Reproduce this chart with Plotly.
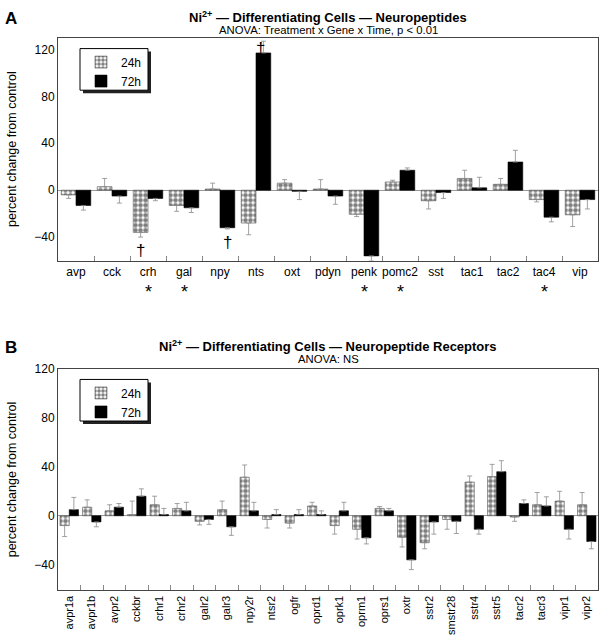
import plotly.graph_objects as go

# ---------------- Panel A: neuropeptides ----------------
genes_a = ["avp", "cck", "crh", "gal", "npy", "nts", "oxt", "pdyn", "penk",
           "pomc2", "sst", "tac1", "tac2", "tac4", "vip"]
a24 = [-4, 3, -36, -13, 1, -28, 6, 1, -20.5, 7, -9, 10, 5, -8, -21]
a24_err = [3, 7, 4, 5, 5, 10, 3, 8, 2, 1.5, 7, 7, 5, 2, 10]
a72 = [-13, -5, -7, -15, -32, 117, -1, -5, -56, 17, -2, 2, 24, -23, -8]
a72_err = [4, 6, 2, 4, 1, 10, 7, 7, 4, 2, 5, 9, 10, 4, 8]
daggers_a = [("crh", "24h"), ("npy", "72h"), ("nts", "72h")]
stars_a = ["crh", "gal", "penk", "pomc2", "tac4"]

# ---------------- Panel B: neuropeptide receptors ----------------
genes_b = ["avpr1a", "avpr1b", "avpr2", "cckbr", "crhr1", "crhr2", "galr2", "galr3",
           "npy2r", "ntsr2", "ogfr", "oprd1", "oprk1", "oprm1", "oprs1", "oxtr",
           "sstr2", "smstr28", "sstr4", "sstr5", "tacr2", "tacr3", "vipr1", "vipr2"]
b24 = [-8, 7, 4, 1, 9, 6, -4.5, 5, 31.5, -3, -6, 8, -8, -11, 6, -17.5,
       -22, -3, 27.5, 32, -1, 9, 12, 9]
b24_err = [9, 6, 5, 11, 7, 4, 3, 7, 10, 7, 4, 3, 7, 8, 1.5, 8,
           5, 8, 5, 10, 3.5, 10, 8, 10]
b72 = [5, -5, 7, 16, 1, 4, -3, -9, 4, 1, 1, 1, 4, -18, 4, -36,
       -5, -4.5, -11, 36, 10, 8, -11, -21]
b72_err = [10, 4, 3, 6, 5, 7, 4, 7, 7, 4, 4, 3, 7, 5, 2, 8,
           10, 10, 4, 9, 3, 7.5, 8, 6]

y_ticks = [-40, 0, 40, 80, 120]
series_names = ["24h", "72h"]

FONT = "Liberation Sans, Arial, Helvetica, sans-serif"
W, H = 604, 635


def one_sided(vals, errs):
    plus = [e if v >= 0 else 0 for v, e in zip(vals, errs)]
    minus = [e if v < 0 else 0 for v, e in zip(vals, errs)]
    return dict(type="data", symmetric=False, array=plus, arrayminus=minus,
                color="#8a8a8a", thickness=0.8, width=2.5)


dot_marker = dict(color="white",
                  pattern=dict(shape=".", fgcolor="black", bgcolor="white",
                               size=5, solidity=0.65, fillmode="overlay"),
                  line=dict(color="#555555", width=0.6))
solid_marker = dict(color="black", line=dict(color="black", width=0.6))

fig = go.Figure()

for name, vals, errs, marker in [(series_names[0], a24, a24_err, dot_marker),
                                 (series_names[1], a72, a72_err, solid_marker)]:
    fig.add_trace(go.Bar(x=genes_a, y=vals, name=name, marker=marker,
                         error_y=one_sided(vals, errs), xaxis="x", yaxis="y",
                         legend="legend"))
for name, vals, errs, marker in [(series_names[0], b24, b24_err, dot_marker),
                                 (series_names[1], b72, b72_err, solid_marker)]:
    fig.add_trace(go.Bar(x=genes_b, y=vals, name=name, marker=marker,
                         error_y=one_sided(vals, errs), xaxis="x2", yaxis="y2",
                         legend="legend2"))

# plot area pixel geometry
xl, xr = 58, 598
a_top, a_bot = 32, 257
b_top, b_bot = 366, 590
px = lambda v: v / W
py = lambda v: 1 - v / H

axis_common = dict(showline=True, linecolor="#444444", linewidth=1, mirror=True,
                   showgrid=False, tickfont=dict(family=FONT, size=12, color="black"))

legend_common = dict(xanchor="left", yanchor="top", bgcolor="rgba(0,0,0,0)",
                     borderwidth=0, font=dict(family=FONT, size=12),
                     tracegroupgap=0, itemwidth=30)

fig.update_layout(
    width=W, height=H,
    margin=dict(l=0, r=0, t=0, b=0),
    paper_bgcolor="white", plot_bgcolor="white",
    barmode="group", bargap=0.18, bargroupgap=0,
    font=dict(family=FONT, color="black"),
    xaxis=dict(domain=[px(xl), px(xr)], anchor="y", type="category",
               ticks="inside", tickson="boundaries", ticklen=5, tickcolor="#888888",
               tickangle=0, **axis_common),
    yaxis=dict(domain=[py(a_bot), py(a_top)], anchor="x", range=[-60, 130],
               tickvals=y_ticks, ticks="", zeroline=True, zerolinecolor="#999999",
               zerolinewidth=1,
               title=dict(text="percent change from control", standoff=14,
                          font=dict(family=FONT, size=12.5)),
               **axis_common),
    xaxis2=dict(domain=[px(xl), px(xr)], anchor="y2", type="category",
                ticks="inside", tickson="boundaries", ticklen=5, tickcolor="#888888",
                tickangle=-90, **{**axis_common,
                                  "tickfont": dict(family=FONT, size=11, color="black")}),
    yaxis2=dict(domain=[py(b_bot), py(b_top)], anchor="x2", range=[-61, 120.3],
                tickvals=y_ticks, ticks="", zeroline=True, zerolinecolor="#999999",
                zerolinewidth=1,
                title=dict(text="percent change from control", standoff=14,
                           font=dict(family=FONT, size=12.5)),
                **axis_common),
    legend=dict(x=px(81), y=py(42), **legend_common),
    legend2=dict(x=px(81), y=py(376), **legend_common),
)

# legend boxes with drop shadows
for top in (43, 377):
    fig.add_shape(type="rect", xref="paper", yref="paper", layer="above",
                  x0=px(83), x1=px(151), y0=py(top + 45), y1=py(top + 3),
                  fillcolor="#222222", line=dict(width=0))
    fig.add_shape(type="rect", xref="paper", yref="paper", layer="above",
                  x0=px(80), x1=px(148), y0=py(top + 42), y1=py(top),
                  fillcolor="white", line=dict(color="black", width=1))

annots = []
# titles
annots += [
    dict(text="<b>Ni<sup>2+</sup> — Differentiating Cells — Neuropeptides</b>",
         x=px(328), y=py(11), font=dict(size=13)),
    dict(text="ANOVA: Treatment x Gene x Time, p < 0.01",
         x=px(328), y=py(24), font=dict(size=11.3)),
    dict(text="<b>Ni<sup>2+</sup> — Differentiating Cells — Neuropeptide Receptors</b>",
         x=px(328), y=py(343), font=dict(size=13)),
    dict(text="ANOVA: NS", x=px(328), y=py(356.5), font=dict(size=11.3)),
    dict(text="<b>A</b>", x=px(11), y=py(13), font=dict(size=17)),
    dict(text="<b>B</b>", x=px(11), y=py(345), font=dict(size=17)),
]
for a in annots:
    a.update(xref="paper", yref="paper", showarrow=False, xanchor="center",
             yanchor="middle")
    a["font"] = dict(family=FONT, color="black", **a["font"])
    fig.add_annotation(**a)

# daggers (significance marks on bars)
cat_w = (xr - xl) / len(genes_a)
bar_off = cat_w * (1 - 0.18) / 4
for gene, series in daggers_a:
    i = genes_a.index(gene)
    vals, errs = (a24, a24_err) if series == "24h" else (a72, a72_err)
    v, e = vals[i], errs[i]
    shift = -bar_off if series == "24h" else bar_off
    if v < 0:
        fig.add_annotation(x=gene, y=v - e, xref="x", yref="y", text="†",
                           showarrow=False, xshift=shift, yshift=-2, yanchor="top",
                           font=dict(family=FONT, size=17, color="black"))
    else:
        fig.add_annotation(x=gene, y=v + e, xref="x", yref="y", text="†",
                           showarrow=False, xshift=shift - 3, yshift=4, yanchor="top",
                           font=dict(family=FONT, size=17, color="black"))

# stars under gene labels
for gene in stars_a:
    fig.add_annotation(x=gene, y=py(289), xref="x", yref="paper", text="*",
                       showarrow=False, yanchor="middle",
                       font=dict(family=FONT, size=18, color="black"))

fig.write_html(
    "out.html", config={"displayModeBar": False},
    post_script=(
        "document.documentElement.style.margin='0px';"
        "document.documentElement.style.overflow='hidden';"
        "document.body.style.margin='0px';"
        "document.body.style.padding='0px';"
        "document.body.style.overflow='hidden';"
        "var gd=document.getElementsByClassName('plotly-graph-div')[0];"
        "gd.style.position='absolute';gd.style.top='0px';gd.style.left='0px';"
    ))
